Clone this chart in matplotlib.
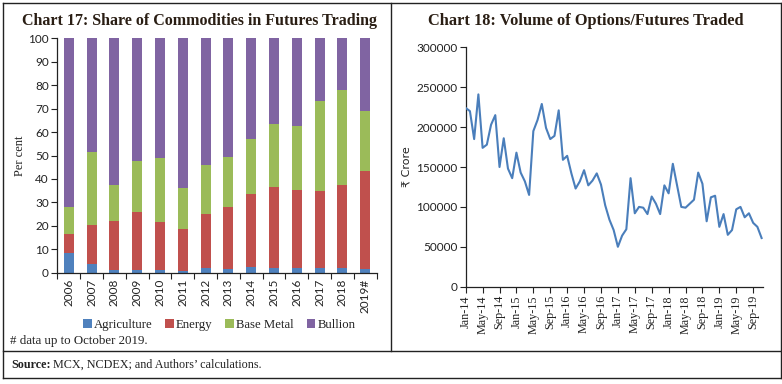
import matplotlib
matplotlib.use("Agg")
import matplotlib.pyplot as plt
from matplotlib.lines import Line2D
import numpy as np
import pandas as pd

W, H = 782, 384

# ---------------- data ----------------
years = ['2006', '2007', '2008', '2009', '2010', '2011', '2012', '2013',
         '2014', '2015', '2016', '2017', '2018', '2019#']
agriculture = [8.2, 3.8, 1.3, 1.2, 1.0, 0.9, 2.0, 1.7, 2.5, 2.2, 2.2, 2.2, 1.8, 1.4]
energy = [8.3, 16.4, 20.7, 24.8, 20.5, 17.6, 23.0, 26.3, 31.0, 34.3, 33.1, 32.6, 35.7, 42.1]
base_metal = [11.5, 31.3, 15.5, 21.7, 27.5, 17.8, 21.0, 21.3, 23.5, 26.8, 27.2, 38.5, 40.3, 25.4]
bullion = [72.0, 48.5, 62.5, 52.3, 51.0, 63.7, 54.0, 50.7, 43.0, 36.7, 37.5, 26.7, 22.2, 31.1]

months = list(pd.date_range('2014-01-01', periods=71, freq='MS').strftime('%b-%y'))
volume = [224000, 220000, 185000, 241000, 174000, 178000, 203000, 215000, 150000, 186000,
          148000, 136000, 168000, 143000, 132000, 115000, 195000, 209000, 229000, 199000,
          185000, 189000, 221000, 159000, 164000, 142000, 123000, 132000, 146000, 127000,
          133000, 142000, 128000, 102000, 84000, 71000, 50000, 64000, 72000, 136000,
          92000, 100000, 99000, 91000, 113000, 104000, 91000, 127000, 117000, 154000,
          127000, 100000, 99000, 104000, 109000, 143000, 129000, 82000, 112000, 114000,
          75000, 91000, 65000, 71000, 97000, 100000, 87000, 92000, 80000, 75000, 61000]

# ---------------- styles ----------------
SERIF = ['Liberation Serif', 'DejaVu Serif']
SANS = ['Lato', 'DejaVu Sans']
TITLE_C = '#2a1e14'
TXT = '#222222'
C_AGR, C_ENE, C_BAS, C_BUL = '#4F81BD', '#C0504D', '#9BBB59', '#8064A2'
LINE_C = '#4A7EBB'

fig = plt.figure(figsize=(W / 100, H / 100), dpi=100)
fig.patch.set_facecolor('white')


def rect(l, t, r, b):
    return [l / W, 1 - b / H, (r - l) / W, (b - t) / H]


def fx(x):
    return x / W


def fy(y):
    return 1 - y / H


def hline(x0, x1, y, lw=1.0):
    fig.add_artist(Line2D([fx(x0), fx(x1)], [fy(y), fy(y)], color='#222222', lw=lw,
                          transform=fig.transFigure))


def vline(x, y0, y1, lw=1.0):
    fig.add_artist(Line2D([fx(x), fx(x)], [fy(y0), fy(y1)], color='#222222', lw=lw,
                          transform=fig.transFigure))


# frame
hline(2.5, 780.5, 2.5)
hline(2.5, 780.5, 378)
vline(2.5, 2.5, 378)
vline(780.5, 2.5, 378)
vline(391, 2.5, 351)
hline(2.5, 780.5, 351)

# ---------------- Chart 17 ----------------
ax1 = fig.add_axes(rect(57.3, 38.3, 376.7, 272.7))
x = np.arange(len(years))
bw = 0.44
bottom = np.zeros(len(years))
series = [(agriculture, C_AGR, 'Agriculture'), (energy, C_ENE, 'Energy'),
          (base_metal, C_BAS, 'Base Metal'), (bullion, C_BUL, 'Bullion')]
handles = []
for vals, col, lab in series:
    b = ax1.bar(x, vals, bw, bottom=bottom, color=col, label=lab, zorder=2)
    handles.append(b)
    bottom = bottom + np.array(vals)
ax1.set_xlim(-0.5, len(years) - 0.5)
ax1.set_ylim(0, 100)
ax1.set_yticks(np.arange(0, 101, 10))
ax1.set_xticks(x)
ax1.set_xticklabels(years, rotation=90, fontfamily=SANS, fontsize=8.5, color=TXT)
ax1.set_xticks(np.arange(-0.5, len(years), 1), minor=True)
ax1.tick_params(axis='x', which='major', length=0, pad=4)
ax1.tick_params(axis='x', which='minor', length=4, width=0.8, direction='out', color='#222222')
ax1.tick_params(axis='y', length=4, width=0.8, direction='out', pad=2, color='#222222')
for lab in ax1.get_yticklabels():
    lab.set_fontfamily(SANS)
    lab.set_fontsize(8.5)
    lab.set_color(TXT)
for s in ['top', 'right']:
    ax1.spines[s].set_visible(False)
for s in ['left', 'bottom']:
    ax1.spines[s].set_color('#222222')
    ax1.spines[s].set_linewidth(0.9)
ax1.set_ylabel('Per cent', fontfamily=SERIF, fontsize=9, color=TXT, labelpad=2)

fig.text(fx(200), fy(21), 'Chart 17: Share of Commodities in Futures Trading',
         ha='center', va='center', fontfamily=SERIF, fontweight='bold', fontsize=11.5,
         color=TITLE_C)

leg = fig.legend(handles=handles, loc='center', bbox_to_anchor=(fx(219), fy(325)),
                 ncol=4, frameon=False, handlelength=0.7, handleheight=0.7,
                 handletextpad=0.15, columnspacing=1.0, borderaxespad=0,
                 prop={'family': SERIF, 'size': 9.2})
for t in leg.get_texts():
    t.set_color(TXT)

fig.text(fx(10), fy(341), '# data up to October 2019.', ha='left', va='center',
         fontfamily=SERIF, fontsize=9.3, color=TXT)
t1 = fig.text(fx(11), fy(365), 'Source:', ha='left', va='center',
              fontfamily=SERIF, fontsize=8.7, fontweight='bold', color=TXT)
fig.canvas.draw()
bb = t1.get_window_extent()
fig.text(bb.x1 / W + 2 / W, fy(365), 'MCX, NCDEX; and Authors\u2019 calculations.', ha='left',
         va='center', fontfamily=SERIF, fontsize=8.7, color=TXT)

# ---------------- Chart 18 ----------------
ax2 = fig.add_axes(rect(465.7, 47.3, 763.3, 286.7))
xi = np.arange(len(volume))
ax2.plot(xi, volume, color=LINE_C, lw=1.5, zorder=3)
ax2.set_xlim(0, len(volume) - 1 + 0.4)
ax2.set_ylim(0, 300000)
ax2.set_yticks(np.arange(0, 300001, 50000))
ax2.set_yticklabels([str(v) for v in range(0, 300001, 50000)], fontfamily=SANS,
                    fontsize=8.5, color=TXT)
tick_idx = list(range(0, len(months), 4))
ax2.set_xticks(tick_idx)
ax2.set_xticklabels([months[i] for i in tick_idx], rotation=90, fontfamily=SERIF,
                    fontsize=8.7, color=TXT)
ax2.tick_params(axis='x', length=4, width=0.8, direction='out', pad=2, color='#222222')
ax2.tick_params(axis='y', length=4, width=0.8, direction='out', pad=2, color='#222222')
for s in ['top', 'right']:
    ax2.spines[s].set_visible(False)
for s in ['left', 'bottom']:
    ax2.spines[s].set_color('#222222')
    ax2.spines[s].set_linewidth(0.9)
ax2.set_ylabel('\u20b9 Crore', fontfamily=['DejaVu Sans'], fontsize=8, color=TXT, labelpad=3)

fig.text(fx(586), fy(21), 'Chart 18: Volume of Options/Futures Traded',
         ha='center', va='center', fontfamily=SERIF, fontweight='bold', fontsize=11.8,
         color=TITLE_C)

fig.savefig('out.png', dpi=100, facecolor='white')
